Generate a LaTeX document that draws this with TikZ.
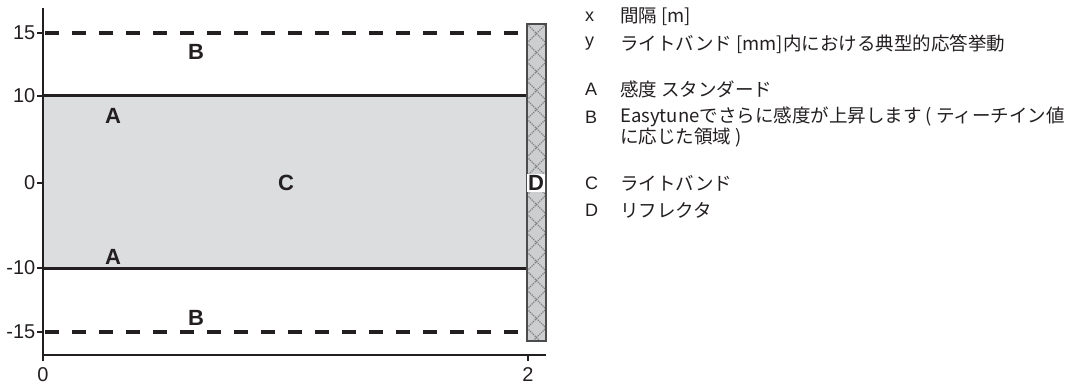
\documentclass[tikz,border=0pt]{standalone}
\usepackage{fontspec}
\setmainfont{Liberation Sans}
\newfontfamily\jpfont{Noto Sans CJK JP}
\usetikzlibrary{positioning}
\definecolor{bandgray}{RGB}{220,221,223}
\definecolor{reflgray}{RGB}{205,206,208}
\definecolor{inkgray}{RGB}{35,31,32}
\tikzset{axisline/.style = {line width=1.3pt, inkgray},
         limitline/.style = {line width=3pt, inkgray},
         easyline/.style = {line width=3.5pt, inkgray, dash pattern=on 14pt off 13pt},
         zonelab/.style = {font=\fontsize{22}{22}\selectfont\bfseries, text=inkgray, inner sep=1pt},
         ticklab/.style = {font=\fontsize{20}{20}\selectfont, text=inkgray, inner sep=1pt},
         keylab/.style = {font=\fontsize{18}{18}\selectfont, text=inkgray, anchor=west, inner sep=0pt},
         keytext/.style = {font=\jpfont\fontsize{18.5}{18.5}\selectfont, text=inkgray, anchor=west, inner sep=0pt}}

\begin{document}
\begin{tikzpicture}[x=1pt, y=-1pt]
      \useasboundingbox (0,0) rectangle (1075,387);

      % light band and limits
      \fill [bandgray] (43,96) rectangle (527,268);
      \draw [limitline] (43,96) -- (527,96);
      \draw [limitline] (43,268) -- (527,268);
      \draw [easyline] (45,33) -- (521,33);
      \draw [easyline] (45,332) -- (521,332);

      % reflector
      \fill [reflgray] (527,24) rectangle (546,341);
      \begin{scope}
        \clip (527,24) rectangle (546,341);
        \foreach \k in {0,...,17}
          \draw [gray, densely dotted, line width=1.2pt] (527,24+19*\k) -- (546,43+19*\k)
                                                         (527,43+19*\k) -- (546,24+19*\k);
      \end{scope}
      \draw [black!70, line width=1.5pt] (527,24) rectangle (546,341);

      % axes
      \draw [axisline] (43,8) -- (43,361);
      \draw [axisline] (43,355) -- (546,355);
      \foreach \yy/\lab in {33/15, 96/10, 183/0, 268/-10, 332/-15}
        \draw [axisline] (43,\yy) -- (37,\yy) node [ticklab, anchor=east] (ty\lab) {\lab};
      \draw [axisline] (528,355) -- (528,361);
      \node [ticklab, anchor=base, inner sep=0pt, text depth=0pt] (tx0) at (43,381) {0};
      \node [ticklab, anchor=base, inner sep=0pt, text depth=0pt] (tx2) at (528,381) {2};

      % zones
      \node [zonelab] (b1) at (196,52) {B};
      \node [zonelab] (a1) at (113,116) {A};
      \node [zonelab] (c) at (286,183) {C};
      \node [zonelab, fill=white] (d) at (536,183) {D};
      \node [zonelab] (a2) at (113,257) {A};
      \node [zonelab] (b2) at (196,318) {B};

      % key
      \node [keylab] (kx) at (585,17) {x};
      \node [keytext] (tx) at (620,17) {間隔 [m]};
      \node [keylab] (ky) at (585,44) {y};
      \node [keytext] (ty) at (620,44) {ライトバンド [mm]内における典型的応答挙動};
      \node [keylab] (ka) at (585,89) {A};
      \node [keytext] (ta) at (620,89) {感度 スタンダード};
      \node [keylab] (kb) at (585,117) {B};
      \node [keytext] (tb) at (620,117) {Easytuneでさらに感度が上昇します ( ティーチイン値};
      \node [keytext] (tb2) at (620,138) {に応じた領域 )};
      \node [keylab] (kc) at (585,183) {C};
      \node [keytext] (tc) at (620,183) {ライトバンド};
      \node [keylab] (kd) at (585,210) {D};
      \node [keytext] (td) at (620,210) {リフレクタ};
    \end{tikzpicture}
\end{document}
